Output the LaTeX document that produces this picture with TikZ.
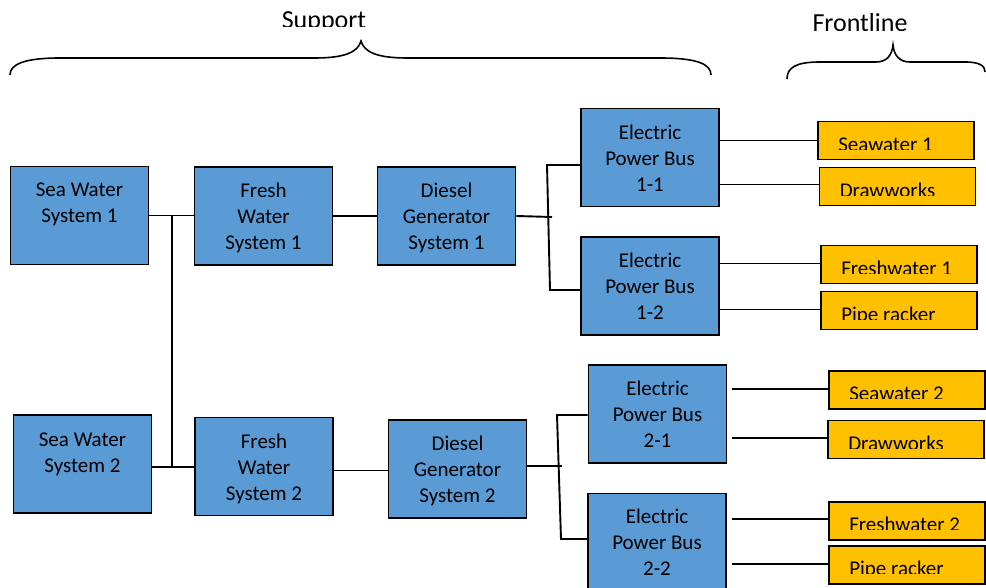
\documentclass[tikz,border=0pt]{standalone}
\usepackage{fontspec}
\setmainfont{Carlito}
\usetikzlibrary{positioning}
\definecolor{boxblue}{RGB}{91,155,213}
\definecolor{boxyellow}{RGB}{255,192,0}
\begin{document}
\begin{tikzpicture}[x=1pt,y=-1pt,
  bbox/.style={draw=black, line width=1.9pt, fill=boxblue, inner sep=0pt,
    minimum width=138pt, minimum height=98pt},
  ybox/.style={draw=black, line width=1.9pt, fill=boxyellow, inner sep=0pt,
    minimum width=156pt, minimum height=38pt},
  btxt/.style={font=\fontsize{21}{26}\selectfont, align=center, inner sep=0pt, anchor=north},
  ytxt/.style={font=\fontsize{21}{26}\selectfont, inner sep=0pt, anchor=base west},
  htxt/.style={font=\fontsize{26}{30}\selectfont, inner sep=0pt, anchor=base},
  conn/.style={draw=black, line width=1.9pt},
  brace/.style={draw=black, line width=1.6pt}
]
\useasboundingbox (0,0) rectangle (986,588);
\fill[white] (0,0) rectangle (986,588);

% braces
\draw[brace] (10,75) .. controls (10,64) and (25,58) .. (60,58) -- (315,58)
  .. controls (345,58) and (358,52) .. (361,41)
  .. controls (364,52) and (377,58) .. (407,58) -- (660,58)
  .. controls (697,58) and (711,64) .. (711,75);
\draw[brace] (787,79) .. controls (787,68) and (795,62) .. (820,62) -- (876,62)
  .. controls (887,62) and (892,55) .. (893,45)
  .. controls (894,55) and (899,62) .. (910,62) -- (965,62)
  .. controls (980,62) and (985,66) .. (985,72);

% blue boxes
\node[bbox] (sw1) at (79.5,215.5) {};
\node[bbox] (fw1) at (263.5,216) {};
\node[bbox] (dg1) at (446.5,216) {};
\node[bbox] (e11) at (650,157.5) {};
\node[bbox] (e12) at (650,286) {};
\node[bbox] (sw2) at (82.5,464) {};
\node[bbox] (fw2) at (264,466.5) {};
\node[bbox] (dg2) at (457.5,469) {};
\node[bbox] (e21) at (657.5,414) {};
\node[bbox] (e22) at (657,542.5) {};

\node[btxt] (sw1t) at ([yshift=-16pt]sw1.north) {\rule{0pt}{15pt}Sea Water\\System 1};
\node[btxt] (fw1t) at ([yshift=-16pt]fw1.north) {\rule{0pt}{15pt}Fresh\\Water\\System 1};
\node[btxt] (dg1t) at ([yshift=-16pt]dg1.north) {\rule{0pt}{15pt}Diesel\\Generator\\System 1};
\node[btxt] (e11t) at ([yshift=-17pt]e11.north) {\rule{0pt}{15pt}Electric\\Power Bus\\1-1};
\node[btxt] (e12t) at ([yshift=-16pt]e12.north) {\rule{0pt}{15pt}Electric\\Power Bus\\1-2};
\node[btxt] (sw2t) at ([yshift=-17pt]sw2.north) {\rule{0pt}{15pt}Sea Water\\System 2};
\node[btxt] (fw2t) at ([yshift=-17pt]fw2.north) {\rule{0pt}{15pt}Fresh\\Water\\System 2};
\node[btxt] (dg2t) at ([yshift=-16pt]dg2.north) {\rule{0pt}{15pt}Diesel\\Generator\\System 2};
\node[btxt] (e21t) at ([yshift=-16pt]e21.north) {\rule{0pt}{15pt}Electric\\Power Bus\\2-1};
\node[btxt] (e22t) at ([yshift=-16pt]e22.north) {\rule{0pt}{15pt}Electric\\Power Bus\\2-2};

% yellow boxes
\node[ybox] (sy1) at (896,140.5) {};
\node[ybox] (dw1) at (897.5,186.5) {};
\node[ybox] (fr1) at (899,264.5) {};
\node[ybox] (pr1) at (899,310.5) {};
\node[ybox] (sy2) at (907,390) {};
\node[ybox] (dw2) at (906,439.5) {};
\node[ybox] (fr2) at (907,521) {};
\node[ybox] (pr2) at (907,565) {};

% clipped texts
\begin{scope}
\clip (0,0) rectangle (700,27)
      (780,0) rectangle (986,30.5)
      (sy1.north west) rectangle ([yshift=-28.5pt]sy1.north east)
      (dw1.north west) rectangle ([yshift=-28.5pt]dw1.north east)
      (fr1.north west) rectangle ([yshift=-28.5pt]fr1.north east)
      (pr1.north west) rectangle ([yshift=-28.5pt]pr1.north east)
      (sy2.north west) rectangle ([yshift=-28.5pt]sy2.north east)
      (dw2.north west) rectangle ([yshift=-28.5pt]dw2.north east)
      (fr2.north west) rectangle ([yshift=-28.5pt]fr2.north east)
      (pr2.north west) rectangle ([yshift=-28.5pt]pr2.north east);
\node[htxt] (support) at (324,29) {Support};
\node[htxt] (frontline) at (860,32) {Frontline};
\node[ytxt] (sy1t) at ([xshift=21pt,yshift=-30.5pt]sy1.north west) {Seawater 1};
\node[ytxt] (dw1t) at ([xshift=21pt,yshift=-30.5pt]dw1.north west) {Drawworks};
\node[ytxt] (fr1t) at ([xshift=21pt,yshift=-30.5pt]fr1.north west) {Freshwater 1};
\node[ytxt] (pr1t) at ([xshift=21pt,yshift=-30.5pt]pr1.north west) {Pipe racker};
\node[ytxt] (sy2t) at ([xshift=21pt,yshift=-30.5pt]sy2.north west) {Seawater 2};
\node[ytxt] (dw2t) at ([xshift=21pt,yshift=-30.5pt]dw2.north west) {Drawworks};
\node[ytxt] (fr2t) at ([xshift=21pt,yshift=-30.5pt]fr2.north west) {Freshwater 2};
\node[ytxt] (pr2t) at ([xshift=21pt,yshift=-30.5pt]pr2.north west) {Pipe racker};
\end{scope}

% connectors, upper chain
\coordinate (j1) at (172,215.5);
\coordinate (j2) at (172,467);
\draw[conn] (sw1.east) -- (sw1.east -| fw1.west);
\draw[conn] (j1) -- (j2);
\draw[conn] (fw1.east) -- (fw1.east -| dg1.west);
\coordinate (b1) at (552,217);
\coordinate (b1t) at (547,165);
\coordinate (b1b) at (550,290);
\draw[conn] (dg1.east) -- (b1);
\draw[conn] (b1t -| e11.west) -- (b1t) -- (b1b) -- (b1b -| e12.west);
\draw[conn] (sy1.west -| e11.east) -- (sy1.west);
\draw[conn] ([yshift=2pt]dw1.west -| e11.east) -- ([yshift=2pt]dw1.west);
\draw[conn] ([yshift=1pt]fr1.west -| e12.east) -- ([yshift=1pt]fr1.west);
\draw[conn] ([yshift=1pt]pr1.west -| e12.east) -- ([yshift=1pt]pr1.west);

% connectors, lower chain
\draw[conn] (j2 -| sw2.east) -- (j2 -| fw2.west);
\draw[conn] ([yshift=-4pt]fw2.east) -- ([yshift=-4pt]fw2.east -| dg2.west);
\coordinate (b2) at (562,466);
\coordinate (b2t) at (557,415);
\coordinate (b2b) at (561,539);
\draw[conn] (dg2.east |- b2) -- (b2);
\draw[conn] (b2t -| e21.west) -- (b2t) -- (b2b) -- (b2b -| e22.west);
\draw[conn] ([xshift=5pt,yshift=1pt]sy2.west -| e21.east) -- ([yshift=1pt]sy2.west);
\draw[conn] ([xshift=5pt,yshift=1.5pt]dw2.west -| e21.east) -- ([yshift=1.5pt]dw2.west);
\draw[conn] ([xshift=5pt,yshift=2pt]fr2.west -| e22.east) -- ([yshift=2pt]fr2.west);
\draw[conn] ([xshift=5pt,yshift=1pt]pr2.west -| e22.east) -- ([yshift=1pt]pr2.west);
\end{tikzpicture}
\end{document}
